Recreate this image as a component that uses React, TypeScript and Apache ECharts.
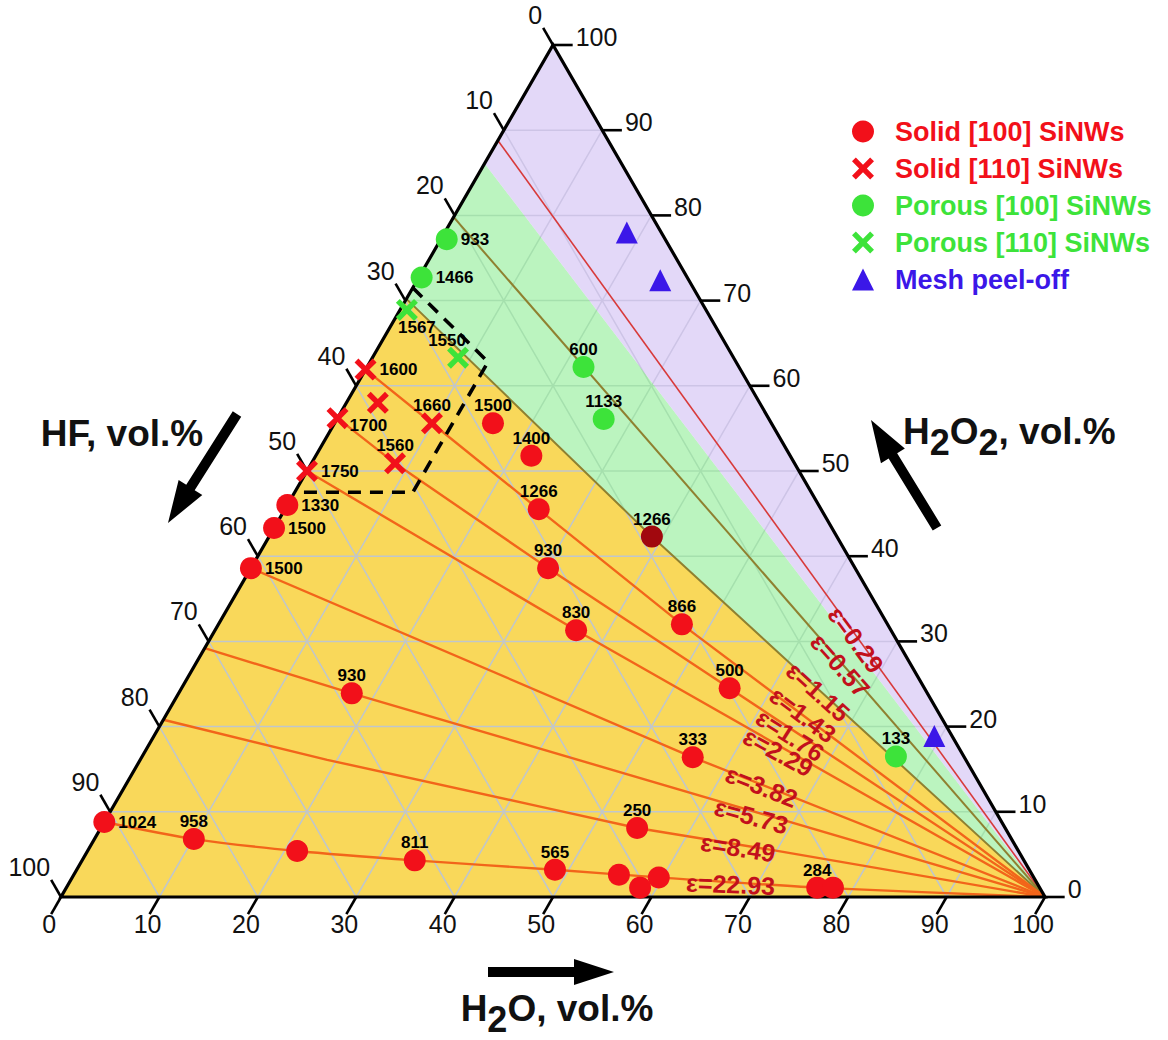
import { useEffect, useRef } from "react";
import * as echarts from "echarts";

const FONT = '"Liberation Sans", Arial, Helvetica, sans-serif';
const SQ = Math.sqrt(3) / 2;

// Compositions are [HF, H2O, H2O2] in vol.%; labels are etch rates.
const solid100Points = [
  [28.3, 16.1, 55.6], [26.4, 21.9, 51.8], [28.6, 25.8, 45.5], [18.8, 38.9, 42.3],
  [31.2, 30.2, 38.6], [32.0, 36.7, 31.3], [20.9, 47.1, 32.0], [19.8, 55.7, 24.5],
  [27.6, 56.0, 16.4], [37.4, 54.5, 8.1], [48.2, 48.6, 3.2], [42.0, 55.4, 2.6],
  [40.6, 58.3, 1.1], [38.1, 59.6, 2.3], [22.6, 76.3, 1.1], [21.0, 77.9, 1.1],
  [54.0, 0, 46.0], [56.7, 0, 43.3], [61.4, 0, 38.6], [58.5, 17.6, 23.9],
  [91.2, 0, 8.8], [83.1, 10.1, 6.8], [73.3, 21.3, 5.4], [61.9, 33.8, 4.3],
];
const solid100Rates = [
  "1500", "1400", "1266", "1266", "930", "830", "866", "500",
  "333", "250", "565", "", "", "", "284", "",
  "1330", "1500", "1500", "930", "1024", "958", "", "811",
];

const solid110Points = [
  [38.1, 0, 61.9], [38.8, 3.2, 58.0], [43.8, 0, 56.2],
  [34.5, 9.9, 55.6], [40.6, 8.5, 50.9], [50.0, 0, 50.0],
];
const solid110Rates = ["1600", "", "1700", "1660", "1560", "1750"];

const porous100Points = [
  [22.2, 0.6, 77.2], [27.0, 0.3, 72.7], [15.8, 22.0, 62.2], [16.8, 27.1, 56.1], [6.9, 76.6, 16.5],
];
const porous100Rates = ["933", "1466", "600", "1133", "133"];

const porous110Points = [[30.4, 0.7, 68.9], [28.0, 8.7, 63.3]];
const porous110Rates = ["1567", "1550"];

const meshPoints = [[3.5, 18.5, 78.0], [2.9, 24.7, 72.4], [1.8, 79.3, 18.9]];

// Iso-ε curves, sampled as compositions
const epsValues = ["0.29", "0.57", "1.15", "1.43", "1.76", "2.29", "3.82", "5.73", "8.49", "22.93"];
const epsCurves = [
  [[11.2, 0, 88.8], [0, 100, 0]],
  [[20.2, 0, 79.8], [0, 100, 0]],
  [[29.8, 0, 70.2], [18.8, 38.9, 42.3], [0, 100, 0]],
  [[38.1, 0, 61.9], [34.5, 9.9, 55.6], [28.6, 25.8, 45.5], [20.9, 47.1, 32.0], [0, 100, 0]],
  [[43.8, 0, 56.2], [40.6, 8.5, 50.9], [31.2, 30.2, 38.6], [19.8, 55.7, 24.5], [0, 100, 0]],
  [[50.0, 0, 50.0], [32.0, 36.7, 31.3], [0, 100, 0]],
  [[61.4, 0, 38.6], [27.6, 56.0, 16.4], [0, 100, 0]],
  [[70.8, 0, 29.2], [58.5, 17.6, 23.9], [0, 100, 0]],
  [[79.2, 0, 20.8], [64.9, 19.0, 16.1], [46.0, 43.4, 10.6], [37.4, 54.5, 8.1], [24.9, 69.6, 5.5], [0, 100, 0]],
  [[91.2, 0, 8.8], [83.1, 10.1, 6.8], [73.3, 21.3, 5.4], [61.9, 33.8, 4.3], [48.2, 48.6, 3.2], [38.1, 59.6, 2.3], [22.6, 76.3, 1.1], [0, 100, 0]],
];

// Region boundaries
const meshBoundary = [[13.9, 0, 86.1], [0, 100, 0]];
const porousBoundary = epsCurves[2];

// Dashed window around the [110] compositions
const dashedWindow = [[28.5, 0, 71.5], [25.2, 12.0, 62.8], [40.5, 12.0, 47.5], [52.5, 0, 47.5]];

const axisTicks = [0, 10, 20, 30, 40, 50, 60, 70, 80, 90, 100];
const gridLevels = [10, 20, 30, 40, 50, 60, 70, 80, 90];

// ---- layout / style ----
const epsLabelAt = [
  [4.1, 65.7, 30.2], [7.2, 65.6, 27.2], [11.0, 64.9, 24.1], [13.9, 64.7, 21.4], [16.4, 64.6, 19.0],
  [18.6, 64.4, 17.0], [22.3, 64.7, 13.0], [25.1, 65.4, 9.5], [28.3, 65.9, 5.8], [31.2, 67.3, 1.5],
];
const epsLineColor = ["#d83a3a", "#8f8030", "#8f8030", "#f2651a", "#f2651a", "#f2651a", "#f2651a", "#f2651a", "#f2651a", "#f2651a"];
const epsLineWidth = [1.6, 2, 2, 2.4, 2.4, 2.4, 2.4, 2.4, 2.4, 2.4];
const epsSmooth = [0, 0, 0, 0, 0, 0, 0, 0, 0, 0.25];

const solid100Place = ["t", "t", "t", "t", "t", "t", "t", "t", "t", "t", "t", "", "", "", "t", "", "r", "r", "r", "t", "r", "t", "", "t"];
const solid110Place = ["r", "", "rb", "t", "t", "r"];
const porous100Place = ["r", "r", "t", "t", "t"];
const porous110Place = ["b", "tl"];

const RED = "#f2101a";
const DARK_RED = "#a1080e";
const GREEN = "#3de33a";
const BLUE = "#3b17e8";
const YELLOW = "#f9d85a";
const GREEN_FILL = "rgba(150,238,157,0.65)";
const PURPLE_FILL = "rgba(212,195,244,0.65)";
const GRID = "#c0c6cc";
const EPS_TEXT = "#c2101c";
const X_ICON = "path://M0,3.5L3.5,0L10,6.5L16.5,0L20,3.5L13.5,10L20,16.5L16.5,20L10,13.5L3.5,20L0,16.5L6.5,10Z";

const toXY = (t: number[]) => [t[1] + t[2] / 2, t[2] * SQ];

const PLACE: Record<string, any> = {
  t: { position: "top", distance: -2 },
  r: { position: "right", distance: 3 },
  rb: { position: "right", distance: 1, offset: [0, 7] },
  b: { position: "bottom", distance: -2, offset: [10, 0] },
  tl: { position: "top", distance: -2, offset: [-11, 0] },
};

function pointData(points: number[][], rates: string[], place: string[], special?: Record<number, string>) {
  return points.map((p, i) => {
    const item: any = {
      value: toXY(p),
      label: rates[i]
        ? { show: true, formatter: rates[i], ...PLACE[place[i]] }
        : { show: false },
    };
    if (special && special[i]) item.itemStyle = { color: special[i] };
    return item;
  });
}

function arrow(tail: number[], tip: number[], sw: number, hl: number, hw: number) {
  const dx = tip[0] - tail[0];
  const dy = tip[1] - tail[1];
  const len = Math.hypot(dx, dy);
  const ux = dx / len, uy = dy / len;
  const nx = -uy, ny = ux;
  const bx = tip[0] - ux * hl, by = tip[1] - uy * hl;
  return [
    [tail[0] + nx * sw / 2, tail[1] + ny * sw / 2],
    [bx + nx * sw / 2, by + ny * sw / 2],
    [bx + nx * hw / 2, by + ny * hw / 2],
    [tip[0], tip[1]],
    [bx - nx * hw / 2, by - ny * hw / 2],
    [bx - nx * sw / 2, by - ny * sw / 2],
    [tail[0] - nx * sw / 2, tail[1] - ny * sw / 2],
  ];
}

const labelStyle = { color: "#000", fontFamily: FONT, fontSize: 17, fontWeight: "bold" };

function buildOption(): any {
  const staticData = [[0, 0]];

  const yellowRegion = (params: any, api: any) => {
    const P = (t: number[]) => api.coord(toXY(t));
    const pts = [[100, 0, 0], ...porousBoundary.slice().reverse()].map(P);
    return { type: "polygon", shape: { points: pts }, style: { fill: YELLOW } };
  };

  const gridLines = (params: any, api: any) => {
    const P = (t: number[]) => api.coord(toXY(t));
    const children: any[] = [];
    gridLevels.forEach((v) => {
      const segs = [
        [[100 - v, 0, v], [0, 100 - v, v]],
        [[100 - v, v, 0], [0, v, 100 - v]],
        [[v, 100 - v, 0], [v, 0, 100 - v]],
      ];
      segs.forEach(([a, b]) => {
        const pa = P(a), pb = P(b);
        children.push({
          type: "line",
          shape: { x1: pa[0], y1: pa[1], x2: pb[0], y2: pb[1] },
          style: { stroke: GRID, lineWidth: 1.5 },
        });
      });
    });
    return { type: "group", children };
  };

  const upperRegions = (params: any, api: any) => {
    const P = (t: number[]) => api.coord(toXY(t));
    const green = [...porousBoundary, ...meshBoundary.slice().reverse()].map(P);
    const purple = [...meshBoundary, [0, 0, 100]].map(P);
    return {
      type: "group",
      children: [
        { type: "polygon", shape: { points: green }, style: { fill: GREEN_FILL } },
        { type: "polygon", shape: { points: purple }, style: { fill: PURPLE_FILL } },
      ],
    };
  };

  const frame = (params: any, api: any) => {
    const P = (t: number[]) => api.coord(toXY(t));
    const children: any[] = [];
    children.push({
      type: "polygon",
      shape: { points: [P([100, 0, 0]), P([0, 100, 0]), P([0, 0, 100])] },
      style: { fill: "none", stroke: "#000", lineWidth: 3.2, lineJoin: "miter" },
    });
    children.push({
      type: "polyline",
      shape: { points: dashedWindow.map(P) },
      style: { fill: "none", stroke: "#000", lineWidth: 3.6, lineDash: [13, 9] },
    });
    const tickText = (x: number, y: number, text: string, align: string) => ({
      type: "text",
      x,
      y,
      style: { text, fill: "#111", fontSize: 25, fontFamily: FONT, align, verticalAlign: "middle" },
    });
    axisTicks.forEach((v) => {
      // H2O along the base
      const b0 = P([100 - v, v, 0]);
      const b1 = P([100 - v + 2, v, -2]);
      children.push({ type: "line", shape: { x1: b0[0], y1: b0[1], x2: b1[0], y2: b1[1] }, style: { stroke: "#000", lineWidth: 2.6 } });
      children.push(tickText(b1[0] - 2, b1[1] + 10, String(v), "center"));
      // HF along the left side
      const l0 = P([v, 0, 100 - v]);
      const l1 = P([v, -2, 100 - v + 2]);
      children.push({ type: "line", shape: { x1: l0[0], y1: l0[1], x2: l1[0], y2: l1[1] }, style: { stroke: "#000", lineWidth: 2.6 } });
      children.push(tickText(l1[0] - 1, l1[1] - 13, String(v), "right"));
      // H2O2 along the right side
      const r0 = P([0, 100 - v, v]);
      const r1 = P([-2, 100 - v + 2, v]);
      children.push({ type: "line", shape: { x1: r0[0], y1: r0[1], x2: r1[0], y2: r1[1] }, style: { stroke: "#000", lineWidth: 2.6 } });
      children.push(tickText(r1[0] + 3, r0[1] - 8, String(v), "left"));
    });
    return { type: "group", children };
  };

  const epsLabels = (params: any, api: any) => {
    const vtx = api.coord(toXY([0, 100, 0]));
    const children = epsValues.map((v, i) => {
      const at = api.coord(toXY(epsLabelAt[i]));
      const ang = Math.atan2(vtx[1] - at[1], vtx[0] - at[0]);
      return {
        type: "text",
        x: at[0],
        y: at[1],
        rotation: -ang,
        style: {
          text: "ε=" + v,
          fill: EPS_TEXT,
          fontSize: 25,
          fontWeight: "bold",
          fontFamily: FONT,
          align: "center",
          verticalAlign: "middle",
        },
      };
    });
    return { type: "group", children };
  };

  const lineSeries = epsCurves.map((curve, i) => ({
    type: "line",
    data: curve.map(toXY),
    showSymbol: false,
    symbol: "none",
    smooth: epsSmooth[i] > 0 ? epsSmooth[i] : false,
    silent: true,
    z: 4,
    lineStyle: { color: epsLineColor[i], width: epsLineWidth[i] },
  }));

  const custom = (renderItem: any, z: number) => ({
    type: "custom",
    coordinateSystem: "cartesian2d",
    data: staticData,
    renderItem,
    clip: false,
    silent: true,
    z,
  });

  const rich = {
    m: { fontSize: 37, fontWeight: "bold", fontFamily: FONT, fill: "#111", lineHeight: 40 },
    s: { fontSize: 36, fontWeight: "bold", fontFamily: FONT, fill: "#111", height: 18, lineHeight: 18, verticalAlign: "bottom" },
  };

  const scatter = (name: string, symbol: string, color: string, data: any[]) => ({
    name,
    type: "scatter",
    symbol,
    symbolSize: 22,
    z: 6,
    clip: false,
    itemStyle: { color, opacity: 1 },
    label: labelStyle,
    data,
  });

  return {
    animation: false,
    backgroundColor: "#ffffff",
    grid: { left: 61, top: 45, width: 984, height: 852 },
    xAxis: { type: "value", min: 0, max: 100, show: false },
    yAxis: { type: "value", min: 0, max: 100 * SQ, show: false },
    legend: {
      orient: "vertical",
      left: 847,
      top: 113,
      itemWidth: 22,
      itemHeight: 22,
      itemGap: 10,
      selectedMode: false,
      textStyle: { fontFamily: FONT, fontSize: 27, fontWeight: "bold", padding: [0, 0, 0, 16] },
      data: [
        { name: "Solid [100] SiNWs", icon: "circle", textStyle: { color: RED } },
        { name: "Solid [110] SiNWs", icon: X_ICON, textStyle: { color: RED } },
        { name: "Porous [100] SiNWs", icon: "circle", textStyle: { color: GREEN } },
        { name: "Porous [110] SiNWs", icon: X_ICON, textStyle: { color: GREEN } },
        { name: "Mesh peel-off", icon: "triangle", textStyle: { color: BLUE } },
      ],
    },
    graphic: [
      {
        type: "text", x: 122, y: 433,
        style: { text: "HF, vol.%", fill: "#111", fontSize: 37, fontWeight: "bold", fontFamily: FONT, align: "center", verticalAlign: "middle" },
      },
      {
        type: "text", x: 903, y: 411,
        style: { text: "{m|H}{s|2}{m|O}{s|2}{m|, vol.%}", align: "left", verticalAlign: "top", rich },
      },
      {
        type: "text", x: 557, y: 988,
        style: { text: "{m|H}{s|2}{m|O, vol.%}", align: "center", verticalAlign: "top", rich },
      },
      { type: "polygon", shape: { points: arrow([488, 972], [614, 972], 10, 40, 26) }, style: { fill: "#000" } },
      { type: "polygon", shape: { points: arrow([237, 414], [168, 523], 10, 42, 28) }, style: { fill: "#000" } },
      { type: "polygon", shape: { points: arrow([937, 528], [871, 420], 10, 42, 28) }, style: { fill: "#000" } },
    ],
    series: [
      custom(yellowRegion, 1),
      custom(gridLines, 2),
      custom(upperRegions, 3),
      ...lineSeries,
      custom(frame, 5),
      scatter("Solid [100] SiNWs", "circle", RED, pointData(solid100Points, solid100Rates, solid100Place, { 3: DARK_RED })),
      scatter("Solid [110] SiNWs", X_ICON, RED, pointData(solid110Points, solid110Rates, solid110Place)),
      scatter("Porous [100] SiNWs", "circle", GREEN, pointData(porous100Points, porous100Rates, porous100Place)),
      scatter("Porous [110] SiNWs", X_ICON, GREEN, pointData(porous110Points, porous110Rates, porous110Place)),
      scatter("Mesh peel-off", "triangle", BLUE, meshPoints.map((p) => ({ value: toXY(p) }))),
      custom(epsLabels, 7),
    ],
  };
}

export default function App() {
  const ref = useRef<HTMLDivElement>(null);
  useEffect(() => {
    const el = ref.current;
    if (!el) return;
    const chart = echarts.init(el, null, { renderer: "svg" });
    chart.setOption(buildOption());
    return () => chart.dispose();
  }, []);
  return (
    <div
      ref={ref}
      style={{ position: "absolute", left: 0, top: 0, width: 1168, height: 1040, background: "#fff" }}
    />
  );
}
